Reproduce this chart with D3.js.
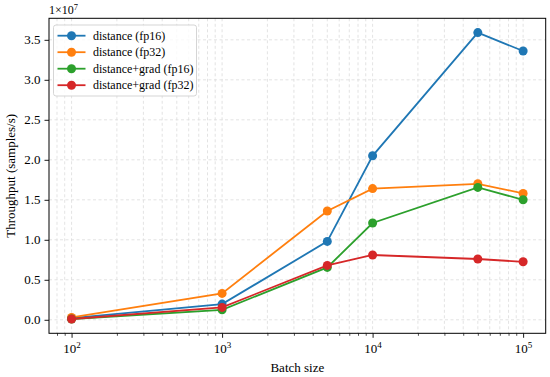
<!DOCTYPE html>
<html>
<head>
<meta charset="utf-8">
<script src="https://cdn.jsdelivr.net/npm/d3@7"></script>
<style>
  body { margin: 0; background: #fff; }
  svg, svg text { font-family: "Liberation Serif", "Times New Roman", serif; }
</style>
</head>
<body>
<div id="chart"></div>
<script>
// batch sizes
var batchSizes = [100, 1000, 5000, 10000, 50000, 100000];

// throughput (samples/s), in units of 1e7
var distFp16 = [0.02, 0.196, 0.98, 2.05, 3.59, 3.36];
var distFp32 = [0.03, 0.33, 1.36, 1.64, 1.70, 1.58];
var gradFp16 = [0.01, 0.125, 0.655, 1.21, 1.655, 1.50];
var gradFp32 = [0.01, 0.155, 0.68, 0.81, 0.76, 0.725];

var seriesNames = ["distance (fp16)", "distance (fp32)", "distance+grad (fp16)", "distance+grad (fp32)"];
var seriesColors = ["#1f77b4", "#ff7f0e", "#2ca02c", "#d62728"];
var yTicks = [0, 0.5, 1.0, 1.5, 2.0, 2.5, 3.0, 3.5];
var xTicks = [100, 1000, 10000, 100000];

var allSeries = [distFp16, distFp32, gradFp16, gradFp32];
var FONT = "'Liberation Serif', 'Times New Roman', serif";

var W = 550, H = 377;
var margin = {top: 18.3, right: 4.3, bottom: 43.7, left: 49};
var width = W - margin.left - margin.right,
    height = H - margin.top - margin.bottom;

var svg = d3.select("#chart").append("svg")
    .attr("width", W)
    .attr("height", H)
    .attr("font-family", FONT);

var g = svg.append("g")
    .attr("transform", "translate(" + margin.left + "," + margin.top + ")");

// matplotlib style 5% margins (log space on x)
var lx0 = Math.log10(d3.min(batchSizes)), lx1 = Math.log10(d3.max(batchSizes));
var padX = (lx1 - lx0) * 0.05;
var x = d3.scaleLog()
    .domain([Math.pow(10, lx0 - padX), Math.pow(10, lx1 + padX)])
    .range([0, width]);

var allVals = d3.merge(allSeries);
var ymin = d3.min(allVals), ymax = d3.max(allVals);
var padY = (ymax - ymin) * 0.05;
var y = d3.scaleLinear()
    .domain([ymin - padY, ymax + padY])
    .range([height, 0]);

// minor ticks for x
var minorX = [];
[10, 100, 1000, 10000, 100000].forEach(function (dec) {
    for (var k = 2; k <= 9; k++) {
        var v = dec * k;
        if (v > x.domain()[0] && v < x.domain()[1]) minorX.push(v);
    }
});

// grid
var grid = g.append("g").attr("class", "grid");
grid.selectAll(".vx")
    .data(xTicks.concat(minorX))
    .enter().append("line")
    .attr("x1", function (d) { return x(d); })
    .attr("x2", function (d) { return x(d); })
    .attr("y1", 0).attr("y2", height)
    .attr("stroke", "#dcdcdc")
    .attr("stroke-width", 0.8)
    .attr("stroke-dasharray", "3,2.5");
grid.selectAll(".hy")
    .data(yTicks)
    .enter().append("line")
    .attr("y1", function (d) { return y(d); })
    .attr("y2", function (d) { return y(d); })
    .attr("x1", 0).attr("x2", width)
    .attr("stroke", "#dcdcdc")
    .attr("stroke-width", 0.8)
    .attr("stroke-dasharray", "3,2.5");

// lines and markers
var line = d3.line()
    .x(function (d, i) { return x(batchSizes[i]); })
    .y(function (d) { return y(d); });

allSeries.forEach(function (s, k) {
    g.append("path")
        .datum(s)
        .attr("d", line)
        .attr("fill", "none")
        .attr("stroke", seriesColors[k])
        .attr("stroke-width", 1.8);
    g.selectAll(".pt" + k)
        .data(s)
        .enter().append("circle")
        .attr("cx", function (d, i) { return x(batchSizes[i]); })
        .attr("cy", function (d) { return y(d); })
        .attr("r", 4.5)
        .attr("fill", seriesColors[k]);
});

// axes
var xAxis = d3.axisBottom(x).tickValues(xTicks).tickSize(4.5).tickFormat("");
var gx = g.append("g")
    .attr("transform", "translate(0," + height + ")")
    .call(xAxis)
    .attr("font-family", FONT);
gx.selectAll("line").attr("stroke", "#000").attr("stroke-width", 0.9);
gx.select(".domain").remove();

var gxm = g.append("g")
    .attr("transform", "translate(0," + height + ")")
    .call(d3.axisBottom(x).tickValues(minorX).tickSize(2.5).tickFormat(""));
gxm.selectAll("line").attr("stroke", "#000").attr("stroke-width", 0.7);
gxm.select(".domain").remove();

// x tick labels 10^n
gx.selectAll(".tick").each(function (d) {
    var t = d3.select(this).append("text")
        .attr("y", 20)
        .attr("fill", "#000")
        .attr("text-anchor", "middle")
        .attr("font-size", 13);
    t.append("tspan").text("10");
    t.append("tspan").attr("dy", -5).attr("font-size", 9).text(Math.round(Math.log10(d)));
});

var yAxis = d3.axisLeft(y).tickValues(yTicks).tickSize(4.5).tickPadding(4)
    .tickFormat(d3.format(".1f"));
var gy = g.append("g").call(yAxis)
    .attr("font-family", FONT)
    .attr("font-size", 13);
gy.select(".domain").remove();
gy.selectAll("line").attr("stroke", "#000").attr("stroke-width", 0.9);
gy.selectAll("text").attr("fill", "#000");

// frame
g.append("rect")
    .attr("width", width).attr("height", height)
    .attr("fill", "none")
    .attr("stroke", "#000")
    .attr("stroke-width", 1);

// offset text
var off = svg.append("text")
    .attr("x", margin.left)
    .attr("y", 14)
    .attr("font-size", 12);
off.append("tspan").text("1\u00d710");
off.append("tspan").attr("dy", -4).attr("font-size", 8.5).text("7");

// axis labels
svg.append("text")
    .attr("x", margin.left + width / 2)
    .attr("y", 372)
    .attr("text-anchor", "middle")
    .attr("font-size", 13)
    .text("Batch size");

svg.append("text")
    .attr("transform", "translate(15," + (margin.top + height / 2) + ") rotate(-90)")
    .attr("text-anchor", "middle")
    .attr("font-size", 13)
    .text("Throughput (samples/s)");

// legend
var lg = svg.append("g").attr("transform", "translate(53.5,25)");
lg.append("rect")
    .attr("width", 143).attr("height", 71)
    .attr("rx", 2.5)
    .attr("fill", "#fff")
    .attr("fill-opacity", 0.8)
    .attr("stroke", "#d0d0d0")
    .attr("stroke-width", 0.9);
seriesNames.forEach(function (name, k) {
    var yy = 10.7 + k * 16.5;
    lg.append("line")
        .attr("x1", 4).attr("x2", 32)
        .attr("y1", yy).attr("y2", yy)
        .attr("stroke", seriesColors[k])
        .attr("stroke-width", 1.8);
    lg.append("circle")
        .attr("cx", 18).attr("cy", yy).attr("r", 4.5)
        .attr("fill", seriesColors[k]);
    lg.append("text")
        .attr("x", 39.5).attr("y", yy + 4)
        .attr("font-size", 12)
        .text(name);
});
</script>
</body>
</html>
